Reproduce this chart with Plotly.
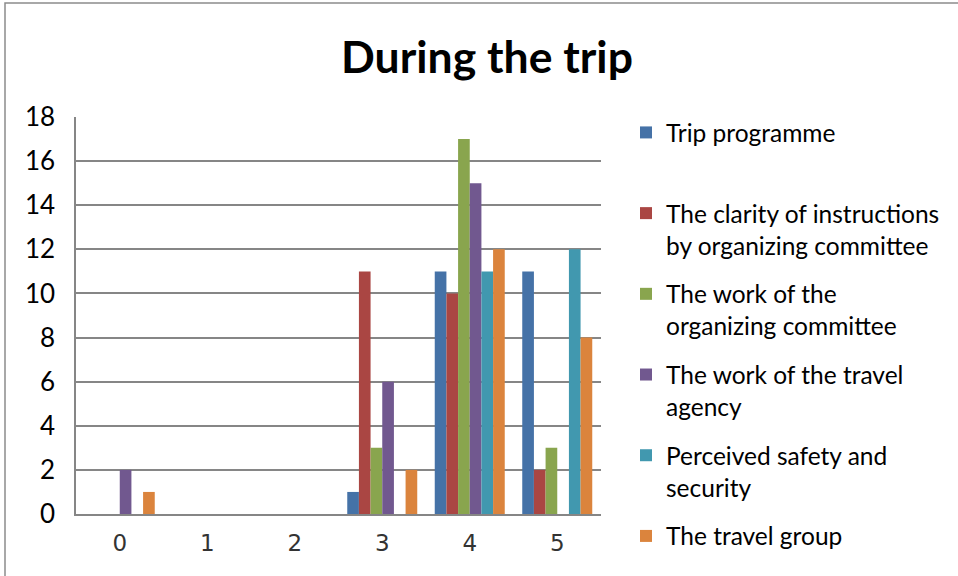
import plotly.graph_objects as go

# Rating categories on the x axis
categories = ["0", "1", "2", "3", "4", "5"]

# Number of answers per rating, one list per question
trip_programme = [0, 0, 0, 1, 11, 11]
clarity_instructions = [0, 0, 0, 11, 10, 2]
work_committee = [0, 0, 0, 3, 17, 3]
work_agency = [2, 0, 0, 6, 15, 0]
safety_security = [0, 0, 0, 0, 11, 12]
travel_group = [1, 0, 0, 2, 12, 8]

series_names = [
    "Trip programme<br> ",
    "The clarity of instructions<br>by organizing committee",
    "The work of the<br>organizing committee",
    "The work of the travel<br>agency",
    "Perceived safety and<br>security",
    "The travel group",
]
series_values = [trip_programme, clarity_instructions, work_committee,
                 work_agency, safety_security, travel_group]
colors = ["#4572A7", "#AA4643", "#89A54E", "#71588F", "#4198AF", "#DB843D"]

W, H = 958, 576
L, R, T, B = 76, 601, 117, 514

fig = go.Figure()
for i, (name, vals, col) in enumerate(zip(series_names, series_values, colors)):
    fig.add_trace(go.Bar(
        x=categories, y=vals, name=name, legendgroup=f"g{i}",
        marker=dict(color=col, line=dict(width=0)),
    ))

fig.update_layout(
    width=W, height=H,
    margin=dict(l=L, r=W - R, t=T, b=H - B, pad=0),
    paper_bgcolor="white", plot_bgcolor="white",
    barmode="group", bargap=0.2, bargroupgap=0,
    font=dict(family="Lato", size=24, color="black"),
    title=dict(
        text="During the trip", x=487 / W, xref="container", xanchor="center",
        y=1 - 57 / H, yref="container", yanchor="middle",
        font=dict(family="Lato", size=44.5, weight=700, color="black"),
    ),
    showlegend=True,
    legend=dict(
        x=(626 - L) / (R - L), xanchor="left",
        y=(H - 110 - (H - B)) / (B - T), yanchor="top",
        valign="top", tracegroupgap=14, maxheight=700,
        font=dict(family="Lato", size=24.5, color="black"),
        bgcolor="rgba(0,0,0,0)", borderwidth=0,
    ),
    shapes=[dict(
        type="rect", xref="paper", yref="paper",
        x0=(5 - L) / (R - L), x1=(970 - L) / (R - L),
        y0=(H - 590 - (H - B)) / (B - T), y1=(H - 3 - (H - B)) / (B - T),
        line=dict(color="#8c8c8c", width=1.5), fillcolor="rgba(0,0,0,0)",
        layer="below",
    )],
)

fig.update_xaxes(
    type="category", showgrid=False, showline=True, linecolor="#868686",
    linewidth=1.5, ticks="", ticklabelstandoff=8,
    tickfont=dict(family="DejaVu Sans", size=23, color="#333333"),
)
fig.update_yaxes(
    range=[0, 18], dtick=2, showgrid=True, gridcolor="#868686", gridwidth=1.5,
    showline=True, linecolor="#868686", linewidth=1.5, ticks="",
    zeroline=False, ticklabelstandoff=14,
    tickfont=dict(family="Lato", size=26, color="black"),
)

fig.write_html("out.html")
